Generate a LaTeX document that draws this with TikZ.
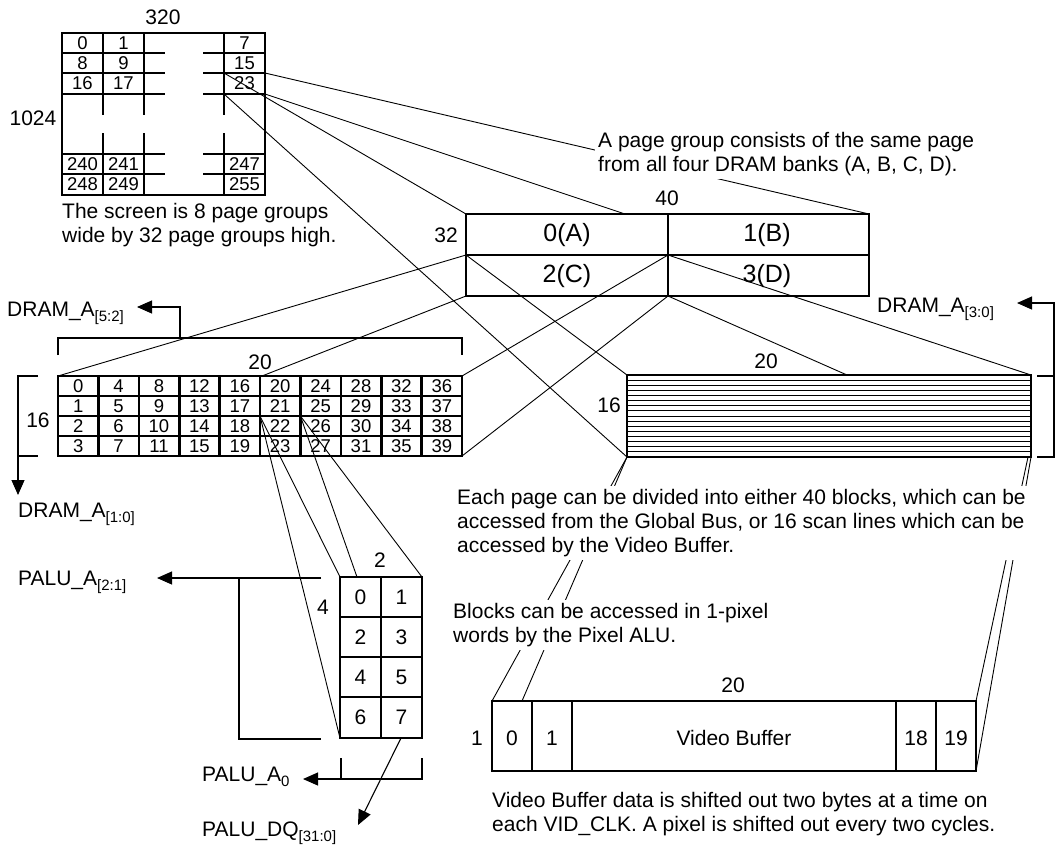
\documentclass[tikz,border=0pt]{standalone}
\usepackage{fontspec}
\setmainfont{Liberation Sans}
\usetikzlibrary{arrows.meta}
\newcommand{\mysub}[1]{\raisebox{-5pt}{\fontsize{15}{15}\selectfont #1}}
\begin{document}
\begin{tikzpicture}[x=1pt,y=-1pt,
  thk/.style={line width=2.6pt},
  conn/.style={line width=0.9pt},
  brk/.style={line width=1.1pt},
  arr/.style={brk,-{Triangle[length=15pt,width=13pt]}},
  lbl/.style={font=\fontsize{21}{24}\selectfont, inner sep=0pt},
  cell/.style={font=\fontsize{18.5}{18.5}\selectfont, inner sep=0pt},
  big/.style={font=\fontsize{25}{25}\selectfont, inner sep=0pt},
  note/.style={font=\fontsize{21}{24}\selectfont, align=left, anchor=north west, fill=white, inner sep=3pt},
]
\fill[white] (0,0) rectangle (1056,847);
\useasboundingbox (0,0) rectangle (1056,847);

% ---------- top screen grid ----------
\draw[thk] (62,33) rectangle (265,195);
\foreach \y in {53,73,94,154,174} {\draw[thk] (62,\y) -- (165,\y); \draw[thk] (203,\y) -- (265,\y);}
\foreach \x in {103,144,224} {\draw[thk] (\x,33) -- (\x,115); \draw[thk] (\x,133) -- (\x,195);}
\foreach \t/\x/\y in {0/82.5/43,1/123.5/43,7/244.5/43,8/82.5/63,9/123.5/63,15/244.5/63,16/82.5/83.5,17/123.5/83.5,23/244.5/83.5,240/82.5/164,241/123.5/164,247/244.5/164,248/82.5/184.5,249/123.5/184.5,255/244.5/184.5}
  {\node[cell] (g\t) at (\x,\y) {\t};}
\coordinate (tgA) at (265,73);
\coordinate (tgB) at (224,73);
\coordinate (tgC) at (265,94);
\coordinate (tgD) at (224,94);

% ---------- page group box ----------
\draw[thk] (466,214) rectangle (869,296);
\draw[thk] (466,255) -- (869,255);
\draw[thk] (668,214) -- (668,296);
\node[big] (pA) at (567,235) {0(A)};
\node[big] (pB) at (767,235) {1(B)};
\node[big] (pC) at (567,276) {2(C)};
\node[big] (pD) at (767,276) {3(D)};
\coordinate (pTL) at (466,214);
\coordinate (pTR) at (869,214);
\coordinate (pTa) at (625,214);
\coordinate (pML) at (466,255);
\coordinate (pMM) at (668,255);
\coordinate (pBL) at (466,296);
\coordinate (pBM) at (668,296);

% ---------- block grid ----------
\draw[thk] (58,376) rectangle (462,456);
\foreach \y in {396,416,436} {\draw[thk] (58,\y) -- (462,\y);}
\foreach \i in {1,...,9} {\draw[thk] ({58+40.4*\i},376) -- ({58+40.4*\i},456);}
\foreach \c in {0,...,9} {\foreach \r in {0,...,3} {\pgfmathtruncatemacro{\n}{4*\c+\r}
  \node[cell] (b\n) at ({78.2+40.4*\c},{386.5+20*\r}) {\n};}}
\coordinate (bTL) at (58,376);
\coordinate (bTR) at (462,376);
\coordinate (bBR) at (462,456);
\coordinate (bT20) at (262,376);
\coordinate (b22) at (260,416);
\coordinate (b26) at (300.4,416);

% ---------- scan line box ----------
\foreach \k in {1,...,15} {\draw[line width=0.8pt] (627,{375+82*\k/16}) -- (1031,{375+82*\k/16});}
\draw[line width=2.8pt] (627,375) rectangle (1031,457);
\coordinate (sTL) at (627,375);
\coordinate (sTR) at (1031,375);
\coordinate (sT847) at (847,375);
\coordinate (sBL) at (627,457);
\coordinate (sBR) at (1031,457);
\coordinate (sBRa) at (1028,457);

% ---------- pixel ALU box ----------
\draw[thk] (340,577) rectangle (422,738);
\draw[thk] (381,577) -- (381,738);
\foreach \y in {617,657,697} {\draw[thk] (340,\y) -- (422,\y);}
\foreach \t/\x/\y in {0/360.5/597,1/401.5/597,2/360.5/637,3/401.5/637,4/360.5/677,5/401.5/677,6/360.5/717.5,7/401.5/717.5}
  {\node[lbl] (a\t) at (\x,\y) {\t};}
\coordinate (aTL) at (340,577);
\coordinate (aT357) at (357,577);
\coordinate (aTR) at (422,577);
\coordinate (aBL) at (340,738);
\coordinate (aB7) at (401,738);

% ---------- video buffer ----------
\draw[thk] (492,701) rectangle (976,771);
\foreach \x in {532,572,896,936} {\draw[thk] (\x,701) -- (\x,771);}
\node[lbl] (v0) at (512,738) {0};
\node[lbl] (v1) at (552,738) {1};
\node[lbl] (vVB) at (734,738) {Video Buffer};
\node[lbl] (v18) at (916,738) {18};
\node[lbl] (v19) at (956,738) {19};
\coordinate (vTL) at (492,701);
\coordinate (vT522) at (522,701);
\coordinate (vTR) at (976,701);
\coordinate (vBR) at (976,771);

% ---------- connectors ----------
\draw[conn] (tgA) -- (pTR);
\draw[conn] (tgB) -- (pTL);
\draw[conn] (tgC) -- (pTa);
\draw[conn] (tgD) -- (sBL);
\draw[conn] (pML) -- (bTL);
\draw[conn] (pML) -- (sTL);
\draw[conn] (pMM) -- (bTR);
\draw[conn] (pMM) -- (sTR);
\draw[conn] (pBL) -- (bT20);
\draw[conn] (pBM) -- (bBR);
\draw[conn] (pBM) -- (sT847);
\draw[conn] (b22) -- (aTL);
\draw[conn] (b22) -- (aBL);
\draw[conn] (b26) -- (aT357);
\draw[conn] (b26) -- (aTR);
\draw[conn] (sBL) -- (vTL);
\draw[conn] (sBL) -- (vT522);
\draw[conn] (sBRa) -- (vTR);
\draw[conn] (sBR) -- (vBR);

% ---------- brackets and arrows ----------
\coordinate (dA52) at (137,307);
\coordinate (dA10) at (18,495);
\coordinate (dA30) at (1017,303);
\coordinate (pa21) at (157,578);
\coordinate (pa0) at (303,779);
\coordinate (pdq) at (358,825);
\draw[brk] (58,355) -- (58,338) -- (462,338) -- (462,355);
\draw[arr] (180,338) -- (180,307) -- (dA52);
\draw[arr] (38,376) -- (18,376) -- (dA10);
\draw[brk] (18,456) -- (38,456);
\draw[brk] (1037,376) -- (1054,376);
\draw[arr] (1037,457) -- (1054,457) -- (1054,303) -- (dA30);
\draw[arr] (321,578) -- (pa21);
\draw[brk] (239,578) -- (239,739) -- (321,739);
\draw[brk] (341,758) -- (341,779);
\draw[arr] (422,758) -- (422,779) -- (pa0);
\draw[arr] (aB7) -- (pdq);

% ---------- labels ----------
\node[lbl] (t320) at (163,17) {320};
\node[lbl] (t1024) at (33,118) {1024};
\node[note, fill=none, inner sep=0pt] (tScreen) at (62,203) {The screen is 8 page groups\\wide by 32 page groups high.};
\node[note] (tPage) at (595,129) {A page group consists of the same page\\from all four DRAM banks (A, B, C, D).};
\node[lbl] (t40) at (667,198) {40};
\node[lbl] (t32) at (446,235) {32};
\node[lbl, anchor=base west] (tDA52) at (7,316.5) {DRAM\_A\mysub{[5:2]}};
\node[lbl] (t20a) at (260,362) {20};
\node[lbl] (t16a) at (38,420) {16};
\node[lbl, anchor=base west] (tDA10) at (18,517.5) {DRAM\_A\mysub{[1:0]}};
\node[lbl, anchor=base west] (tDA30) at (877,312) {DRAM\_A\mysub{[3:0]}};
\node[lbl] (t20b) at (766,361) {20};
\node[lbl] (t16b) at (609,405) {16};
\node[note] (tEach) at (454,486) {Each page can be divided into either 40 blocks, which can be\\accessed from the Global Bus, or 16 scan lines which can be\\accessed by the Video Buffer.};
\node[note] (tBlocks) at (450,600) {Blocks can be accessed in 1-pixel\\words by the Pixel ALU.};
\node[lbl] (t2) at (380,560) {2};
\node[lbl] (t4) at (323,607) {4};
\node[lbl, anchor=base west] (tPA21) at (18,585.5) {PALU\_A\mysub{[2:1]}};
\node[lbl, anchor=base west] (tPA0) at (202,781) {PALU\_A\mysub{0}};
\node[lbl, anchor=base west] (tPDQ) at (202,836) {PALU\_DQ\mysub{[31:0]}};
\node[lbl] (t20c) at (733,685) {20};
\node[lbl] (t1) at (477,738) {1};
\node[note, fill=none, inner sep=0pt] (tVideo) at (492,792) {Video Buffer data is shifted out two bytes at a time on\\each VID\_CLK. A pixel is shifted out every two cycles.};
\end{tikzpicture}
\end{document}
